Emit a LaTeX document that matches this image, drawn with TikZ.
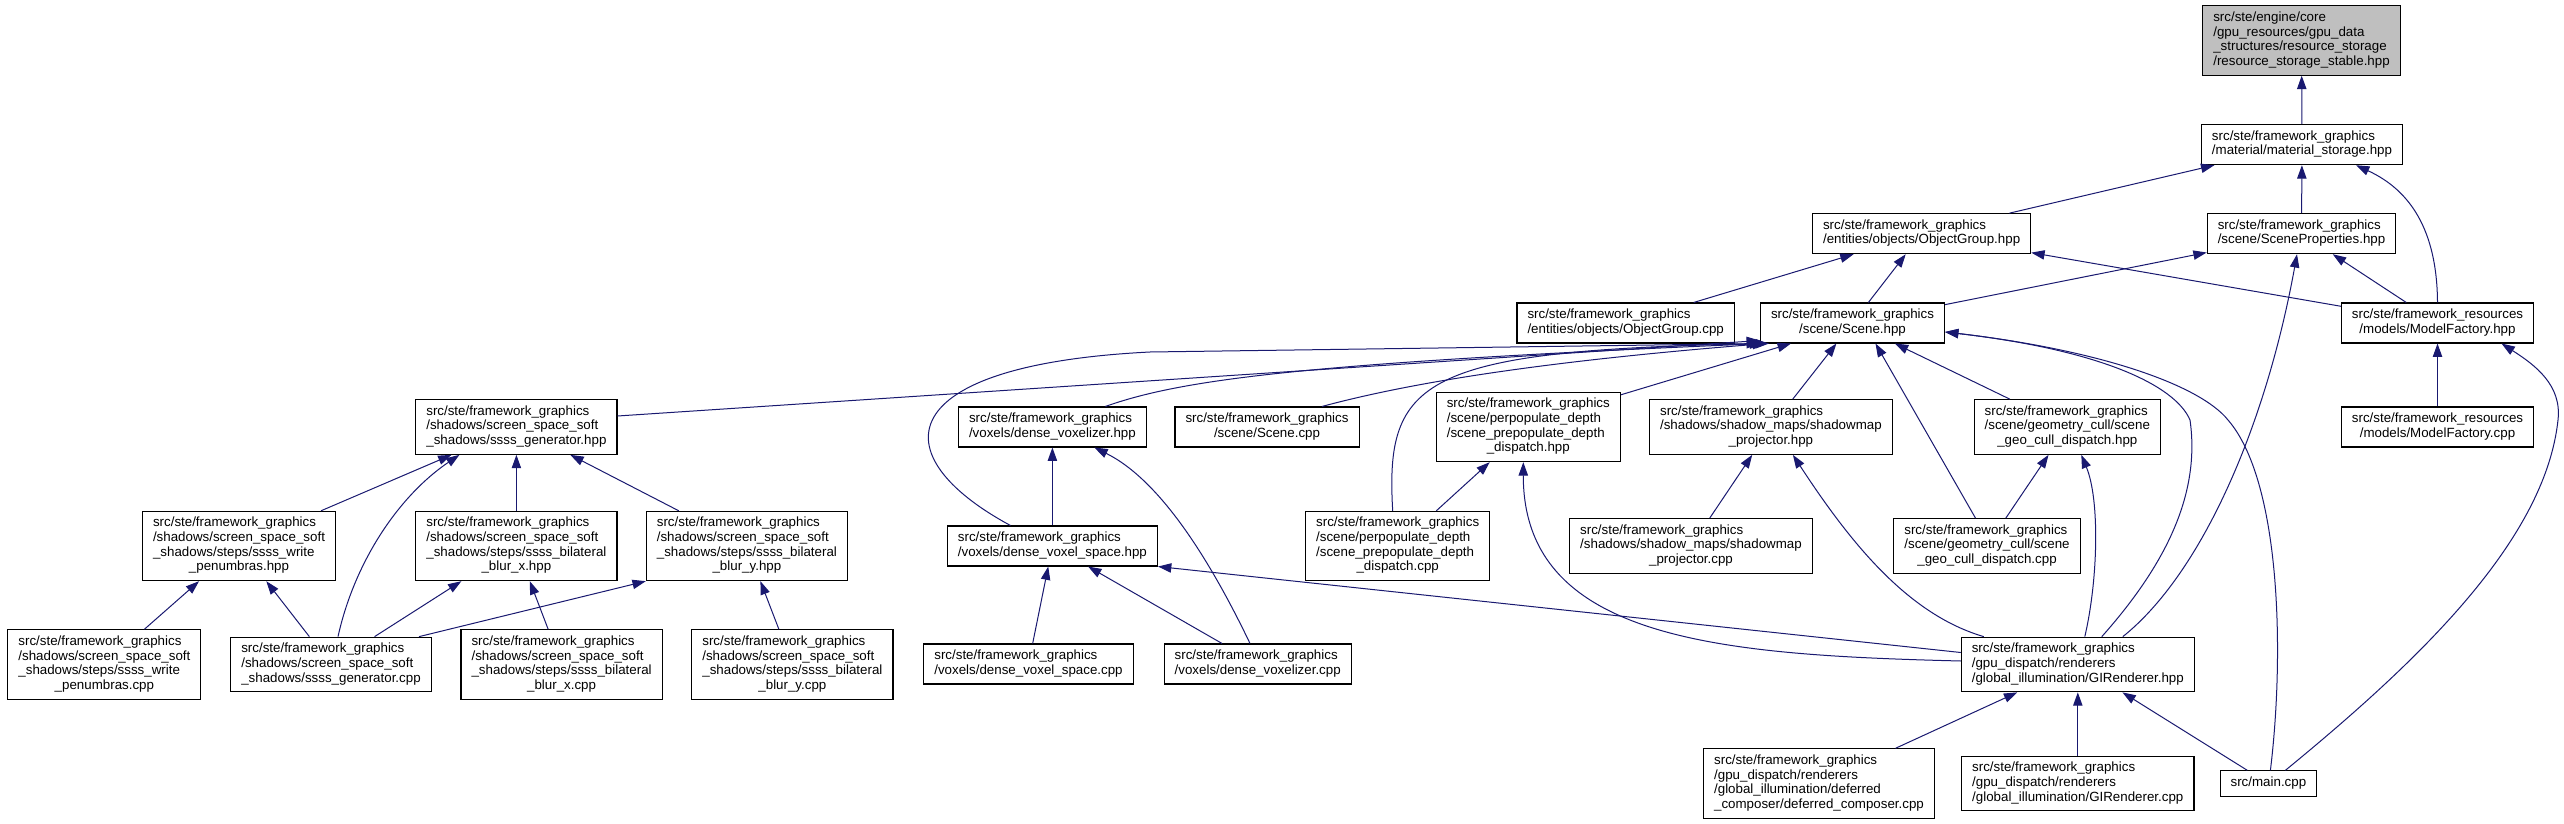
\documentclass[tikz,border=0pt]{standalone}
\usepackage{fontspec}
\setmainfont{Liberation Sans}
\usepackage{tikz}
\usetikzlibrary{arrows.meta}
\definecolor{edgeblue}{RGB}{25,25,112}
\definecolor{focusgrey}{RGB}{191,191,191}
\newcommand{\incfile}[2]{\begin{tabular}{@{}l@{}}#1\\\multicolumn{1}{@{}c@{}}{#2}\end{tabular}}
\tikzset{
  file/.style={draw=black,line width=0.8pt,fill=white,inner xsep=7.9pt,
    inner ysep=4pt,font=\fontsize{10}{11}\selectfont},
  focusfile/.style={file,fill=focusgrey},
  incl/.style={-{Triangle[length=10pt,width=7pt]},line width=0.75pt,draw=edgeblue}
}

\begin{document}
\begin{tikzpicture}[x=0.75pt,y=-0.75pt]
  \fill[white] (0,0) rectangle (2564,824);
  \useasboundingbox (0,0) rectangle (2564,824);
  \node[focusfile] (storstable) at (2301.5,40.5) {\incfile{src/ste/engine/core\\/gpu\_resources/gpu\_data\\\_structures/resource\_storage}{/resource\_storage\_stable.hpp}};
  \node[file] (matstor) at (2302,144.7) {\incfile{src/ste/framework\_graphics}{/material/material\_storage.hpp}};
  \node[file] (objgrouphpp) at (1921.6,233.7) {\incfile{src/ste/framework\_graphics}{/entities/objects/ObjectGroup.hpp}};
  \node[file] (sceneprops) at (2301.5,233.7) {\incfile{src/ste/framework\_graphics}{/scene/SceneProperties.hpp}};
  \node[file] (objgroupcpp) at (1625.7,323) {\incfile{src/ste/framework\_graphics}{/entities/objects/ObjectGroup.cpp}};
  \node[file] (scenehpp) at (1852.5,323) {\incfile{src/ste/framework\_graphics}{/scene/Scene.hpp}};
  \node[file] (modelfachpp) at (2437.5,323) {\incfile{src/ste/framework\_resources}{/models/ModelFactory.hpp}};
  \node[file] (ssssgenhpp) at (516.4,427) {\incfile{src/ste/framework\_graphics\\/shadows/screen\_space\_soft}{\_shadows/ssss\_generator.hpp}};
  \node[file] (voxelizerhpp) at (1052.4,427) {\incfile{src/ste/framework\_graphics}{/voxels/dense\_voxelizer.hpp}};
  \node[file] (scenecpp) at (1267,427) {\incfile{src/ste/framework\_graphics}{/scene/Scene.cpp}};
  \node[file] (prepophpp) at (1528.3,427) {\incfile{src/ste/framework\_graphics\\/scene/perpopulate\_depth\\/scene\_prepopulate\_depth}{\_dispatch.hpp}};
  \node[file] (shadowprojhpp) at (1770.9,427) {\incfile{src/ste/framework\_graphics\\/shadows/shadow\_maps/shadowmap}{\_projector.hpp}};
  \node[file] (geocullhpp) at (2067.3,427) {\incfile{src/ste/framework\_graphics\\/scene/geometry\_cull/scene}{\_geo\_cull\_dispatch.hpp}};
  \node[file] (modelfaccpp) at (2437.5,427) {\incfile{src/ste/framework\_resources}{/models/ModelFactory.cpp}};
  \node[file] (penumbrashpp) at (239,546) {\incfile{src/ste/framework\_graphics\\/shadows/screen\_space\_soft\\\_shadows/steps/ssss\_write}{\_penumbras.hpp}};
  \node[file] (blurxhpp) at (516.4,546) {\incfile{src/ste/framework\_graphics\\/shadows/screen\_space\_soft\\\_shadows/steps/ssss\_bilateral}{\_blur\_x.hpp}};
  \node[file] (bluryhpp) at (746.9,546) {\incfile{src/ste/framework\_graphics\\/shadows/screen\_space\_soft\\\_shadows/steps/ssss\_bilateral}{\_blur\_y.hpp}};
  \node[file] (voxelspacehpp) at (1052.4,546) {\incfile{src/ste/framework\_graphics}{/voxels/dense\_voxel\_space.hpp}};
  \node[file] (prepopcpp) at (1397.7,546) {\incfile{src/ste/framework\_graphics\\/scene/perpopulate\_depth\\/scene\_prepopulate\_depth}{\_dispatch.cpp}};
  \node[file] (shadowprojcpp) at (1691,546) {\incfile{src/ste/framework\_graphics\\/shadows/shadow\_maps/shadowmap}{\_projector.cpp}};
  \node[file] (geocullcpp) at (1987,546) {\incfile{src/ste/framework\_graphics\\/scene/geometry\_cull/scene}{\_geo\_cull\_dispatch.cpp}};
  \node[file] (penumbrascpp) at (104.4,664.5) {\incfile{src/ste/framework\_graphics\\/shadows/screen\_space\_soft\\\_shadows/steps/ssss\_write}{\_penumbras.cpp}};
  \node[file] (ssssgencpp) at (331,664.5) {\incfile{src/ste/framework\_graphics\\/shadows/screen\_space\_soft}{\_shadows/ssss\_generator.cpp}};
  \node[file] (blurxcpp) at (561.6,664.5) {\incfile{src/ste/framework\_graphics\\/shadows/screen\_space\_soft\\\_shadows/steps/ssss\_bilateral}{\_blur\_x.cpp}};
  \node[file] (blurycpp) at (792.4,664.5) {\incfile{src/ste/framework\_graphics\\/shadows/screen\_space\_soft\\\_shadows/steps/ssss\_bilateral}{\_blur\_y.cpp}};
  \node[file] (voxelspacecpp) at (1028.5,664) {\incfile{src/ste/framework\_graphics}{/voxels/dense\_voxel\_space.cpp}};
  \node[file] (voxelizercpp) at (1257.7,664) {\incfile{src/ste/framework\_graphics}{/voxels/dense\_voxelizer.cpp}};
  \node[file] (girendhpp) at (2077.8,664.5) {\incfile{src/ste/framework\_graphics\\/gpu\_dispatch/renderers}{/global\_illumination/GIRenderer.hpp}};
  \node[file] (deferredcpp) at (1819,783.5) {\incfile{src/ste/framework\_graphics\\/gpu\_dispatch/renderers\\/global\_illumination/deferred}{\_composer/deferred\_composer.cpp}};
  \node[file] (girendcpp) at (2077.8,783.5) {\incfile{src/ste/framework\_graphics\\/gpu\_dispatch/renderers}{/global\_illumination/GIRenderer.cpp}};
  \node[file] (maincpp) at (2268.4,783.5) {\begin{tabular}{@{}c@{}}src/main.cpp\end{tabular}};

  \draw[incl] (matstor) -- (storstable);
  \draw[incl] (objgrouphpp) -- (matstor);
  \draw[incl] (sceneprops) -- (matstor);
  \draw[incl] (modelfachpp.north) .. controls (2437,230) and (2410,190) .. ([shift={(54,0)}]matstor.south);
  \draw[incl] (objgroupcpp) -- (objgrouphpp);
  \draw[incl] (scenehpp) -- (objgrouphpp);
  \draw[incl] (scenehpp) -- (sceneprops);
  \draw[incl] (modelfachpp) -- (objgrouphpp);
  \draw[incl] (modelfachpp) -- (sceneprops);
  \draw[incl] (modelfaccpp) -- (modelfachpp);
  \draw[incl] ([shift={(17,0)}]maincpp.north) .. controls (2420,660) and (2545,540) .. (2558,420)
    .. controls (2562,385) and (2535,365) .. ([shift={(64,0)}]modelfachpp.south);
  \draw[incl] ([shift={(0,-11)}]ssssgenhpp.east) -- ([shift={(0,-3)}]scenehpp.south west);
  \draw[incl] ([shift={(-42,0)}]voxelspacehpp.north) .. controls (880,455) and (890,365) .. (1150,352)
    -- (scenehpp.south west);
  \draw[incl] ([shift={(53,0)}]voxelizerhpp.north) .. controls (1180,380) and (1300,363) .. ([shift={(3,0)}]scenehpp.south west);
  \draw[incl] ([shift={(55,0)}]scenecpp.north) .. controls (1420,380) and (1560,360) .. ([shift={(6,0)}]scenehpp.south west);
  \draw[incl] ([shift={(0,3)}]prepophpp.north east) -- ([shift={(31,0)}]scenehpp.south west);
  \draw[incl] ([shift={(-5,0)}]prepopcpp.north) .. controls (1385,380) and (1420,350) .. ([shift={(9,0)}]scenehpp.south west);
  \draw[incl] (shadowprojhpp) -- (scenehpp);
  \draw[incl] (geocullhpp) -- (scenehpp);
  \draw[incl] ([shift={(-11.5,0)}]geocullcpp.north) -- ([shift={(23,0)}]scenehpp.south);
  \draw[incl] ([shift={(24,0)}]girendhpp.north) .. controls (2170,560) and (2200,490) .. (2190,420)
    .. controls (2175,385) and (2100,350) .. ([shift={(0,9)}]scenehpp.east);
  \draw[incl] ([shift={(2,0)}]maincpp.north) .. controls (2285,650) and (2280,480) .. (2228,420)
    .. controls (2200,385) and (2100,350) .. ([shift={(0,9)}]scenehpp.east);
  \draw[incl] ([shift={(45,0)}]girendhpp.north) .. controls (2200,575) and (2265,430) .. ([shift={(-4.5,0)}]sceneprops.south);
  \draw[incl] ([shift={(0,-12)}]girendhpp.west) -- (voxelspacehpp.south east);
  \draw[incl] ([shift={(0,-3.5)}]girendhpp.west) .. controls (1720,655) and (1523,640) .. ([shift={(-5,0)}]prepophpp.south);
  \draw[incl] ([shift={(-94,0)}]girendhpp.north) .. controls (1910,615) and (1853,547) .. ([shift={(22,0)}]shadowprojhpp.south);
  \draw[incl] ([shift={(7,0)}]girendhpp.north) .. controls (2098,580) and (2100,500) .. ([shift={(14,0)}]geocullhpp.south);
  \draw[incl] (deferredcpp) -- (girendhpp);
  \draw[incl] (girendcpp) -- (girendhpp);
  \draw[incl] (maincpp) -- (girendhpp);
  \draw[incl] (voxelspacehpp) -- (voxelizerhpp);
  \draw[incl] (voxelspacecpp) -- (voxelspacehpp);
  \draw[incl] (voxelizercpp) -- (voxelspacehpp);
  \draw[incl] ([shift={(-7.7,0)}]voxelizercpp.north) .. controls (1210,560) and (1160,480) .. ([shift={(42,0)}]voxelizerhpp.south);
  \draw[incl] (prepopcpp) -- (prepophpp);
  \draw[incl] (shadowprojcpp) -- (shadowprojhpp);
  \draw[incl] (geocullcpp) -- (geocullhpp);
  \draw[incl] (penumbrashpp) -- (ssssgenhpp);
  \draw[incl] (blurxhpp) -- (ssssgenhpp);
  \draw[incl] (bluryhpp) -- (ssssgenhpp);
  \draw[incl] ([shift={(7,0)}]ssssgencpp.north) .. controls (355,560) and (400,495) .. ([shift={(-57,0)}]ssssgenhpp.south);
  \draw[incl] (ssssgencpp) -- (penumbrashpp);
  \draw[incl] (ssssgencpp) -- (blurxhpp);
  \draw[incl] ([shift={(88,0)}]ssssgencpp.north) -- (bluryhpp.south west);
  \draw[incl] (penumbrascpp) -- (penumbrashpp);
  \draw[incl] (blurxcpp) -- (blurxhpp);
  \draw[incl] (blurycpp) -- (bluryhpp);
\end{tikzpicture}
\end{document}
